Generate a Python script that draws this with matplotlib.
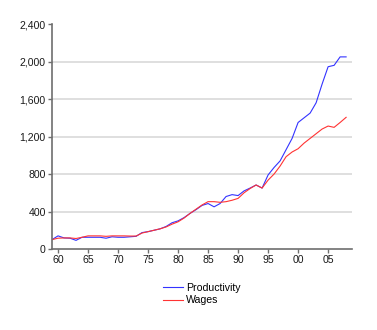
import matplotlib

matplotlib.use("Agg")
import matplotlib.pyplot as plt
from matplotlib.ticker import FixedLocator, FuncFormatter

plt.rcParams["font.family"] = ["Liberation Sans", "DejaVu Sans"]

years = list(range(1959, 2009))
productivity = [
    100, 140, 118, 115, 92, 125, 125, 125, 125, 115,
    130, 125, 125, 130, 135, 175, 185, 200, 215, 240,
    280, 300, 335, 380, 420, 465, 485, 450, 485, 560,
    580, 570, 620, 650, 683, 650, 790, 870, 940, 1060,
    1180, 1350, 1400, 1450, 1560, 1760, 1945, 1960, 2050, 2050,
]
wages = [
    100, 115, 118, 118, 112, 125, 140, 140, 140, 135,
    140, 140, 140, 138, 138, 170, 185, 200, 215, 235,
    265, 290, 330, 380, 425, 470, 505, 505, 498, 505,
    520, 540, 600, 645, 683, 650, 735, 800, 885, 985,
    1035, 1070, 1130, 1180, 1230, 1280, 1312, 1298, 1350, 1405,
]
y_ticks = [0, 400, 800, 1200, 1600, 2000, 2400]
x_ticks = [1960, 1965, 1970, 1975, 1980, 1985, 1990, 1995, 2000, 2005]

fig = plt.figure(figsize=(3.77, 3.30), dpi=100)
ax = fig.add_axes([0.138, 0.2455, 0.796, 0.6815])

ax.plot(years, productivity, color="#3333ff", lw=0.8, label="Productivity")
ax.plot(years, wages, color="#ff3333", lw=0.8, label="Wages")

ax.set_xlim(1959, 2009)
ax.set_ylim(0, 2400)
ax.yaxis.set_major_locator(FixedLocator(y_ticks))
ax.yaxis.set_major_formatter(FuncFormatter(lambda v, p: f"{int(v):,}"))
ax.xaxis.set_major_locator(FixedLocator(x_ticks))
ax.xaxis.set_major_formatter(FuncFormatter(lambda v, p: f"{int(v) % 100:02d}"))

for v in y_ticks[1:-1]:
    ax.axhline(v, color="#dcdcdc", lw=1.3, zorder=0)

for side in ("top", "right"):
    ax.spines[side].set_visible(False)
for side in ("left", "bottom"):
    ax.spines[side].set_color("#6e6e6e")
    ax.spines[side].set_linewidth(1.2)

ax.tick_params(axis="both", colors="#6e6e6e", labelcolor="#1a1a1a",
               length=3, width=1, labelsize=7.6, pad=1.5)

fig.legend(loc="upper left", bbox_to_anchor=(0.432, 0.143), frameon=False,
           fontsize=7.6, borderpad=0, borderaxespad=0, handlelength=1.9,
           handletextpad=0.3, labelspacing=0.25)

fig.savefig("out.png", dpi=100)
